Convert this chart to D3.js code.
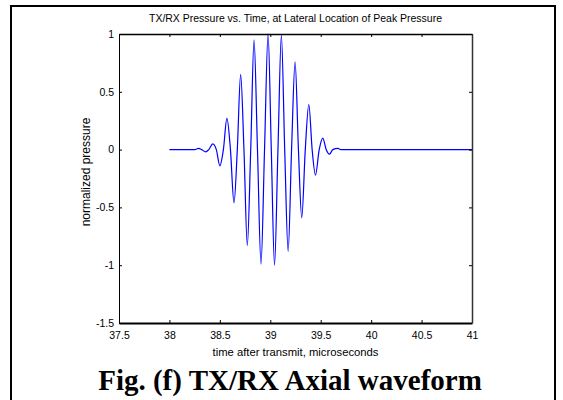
<!DOCTYPE html>
<html>
<head>
<meta charset="utf-8">
<script src="https://cdn.jsdelivr.net/npm/d3@7"></script>
<style>
  html, body { margin: 0; padding: 0; background: #fff; }
  svg { display: block; }
  text { font-family: "Liberation Sans", Arial, sans-serif; fill: #000; }
  .caption { font-family: "Liberation Serif", "Times New Roman", serif; font-weight: bold; }
</style>
</head>
<body>
<div id="chart"></div>
<script>
const SIZE = Object.freeze({
  WIDTH: 563,
  HEIGHT: 400,
  LEFT: 119,
  RIGHT: 472,
  TOP: 34,
  BOTTOM: 323,
})

// time after transmit (microseconds) and normalized pressure
const times = [
  38.0, 38.25, 38.29, 38.32, 38.36, 38.39, 38.43, 38.465, 38.50, 38.535,
  38.57, 38.605, 38.64, 38.673, 38.706, 38.739, 38.772, 38.806, 38.839, 38.873,
  38.908, 38.943, 38.978, 39.01, 39.042, 39.076, 39.11, 39.143, 39.177, 39.211,
  39.246, 39.279, 39.312, 39.347, 39.382, 39.415, 39.448, 39.485, 39.521, 39.554,
  39.587, 39.62, 39.67, 39.70, 41.0
]
const pressure = [
  0, 0, 0.01, 0, -0.02, 0, 0.05, 0, -0.14, 0,
  0.27, 0, -0.46, 0, 0.65, 0, -0.83, 0, 0.95, 0,
  -0.99, 0, 1.0, 0, -1.0, 0, 0.99, 0, -0.88, 0,
  0.76, 0, -0.59, 0, 0.39, 0, -0.22, 0, 0.10, 0,
  -0.04, 0, 0.01, 0, 0
]

const xTicks = [37.5, 38, 38.5, 39, 39.5, 40, 40.5, 41]
const xTickLabels = ['37.5', '38', '38.5', '39', '39.5', '40', '40.5', '41']
const yTicks = [-1.5, -1, -0.5, 0, 0.5, 1]
const yTickLabels = ['-1.5', '-1', '-0.5', '0', '0.5', '1']

const title = 'TX/RX Pressure vs. Time, at Lateral Location of Peak Pressure'
const xLabel = 'time after transmit, microseconds'
const yLabel = 'normalized pressure'
const caption = 'Fig. (f) TX/RX Axial waveform'

const buildChart = () => {
  const dataset = times.map((t, i) => [t, pressure[i]])

  const xScale = d3.scaleLinear()
    .domain([37.5, 41])
    .range([SIZE.LEFT, SIZE.RIGHT])
  const yScale = d3.scaleLinear()
    .domain([-1.5, 1])
    .range([SIZE.BOTTOM, SIZE.TOP])

  const svg = d3.select('#chart')
    .append('svg')
    .attr('width', SIZE.WIDTH)
    .attr('height', SIZE.HEIGHT)

  // page frame
  svg.append('path')
    .attr('d', `M11,${SIZE.HEIGHT} V6 H555 V${SIZE.HEIGHT}`)
    .attr('fill', 'none')
    .attr('stroke', '#000')
    .attr('stroke-width', 2)

  // waveform
  const line = d3.line()
    .x(d => xScale(d[0]))
    .y(d => yScale(d[1]))
    .curve(d3.curveMonotoneX)

  svg.append('path')
    .datum(dataset)
    .attr('d', line)
    .attr('fill', 'none')
    .attr('stroke', '#0000ff')
    .attr('stroke-width', 1.2)

  const xFormat = (d, i) => xTickLabels[i]
  const yFormat = (d, i) => yTickLabels[i]

  const bottomAxis = svg.append('g')
    .attr('transform', `translate(0, ${SIZE.BOTTOM})`)
    .call(d3.axisBottom(xScale).tickValues(xTicks).tickFormat(xFormat).tickSizeInner(-3).tickSizeOuter(0).tickPadding(9))
  const topAxis = svg.append('g')
    .attr('transform', `translate(0, ${SIZE.TOP})`)
    .call(d3.axisTop(xScale).tickValues(xTicks).tickFormat('').tickSizeInner(-3).tickSizeOuter(0))
  const leftAxis = svg.append('g')
    .attr('transform', `translate(${SIZE.LEFT}, 0)`)
    .call(d3.axisLeft(yScale).tickValues(yTicks).tickFormat(yFormat).tickSizeInner(-3).tickSizeOuter(0).tickPadding(5))
  const rightAxis = svg.append('g')
    .attr('transform', `translate(${SIZE.RIGHT}, 0)`)
    .call(d3.axisRight(yScale).tickValues(yTicks).tickFormat('').tickSizeInner(-3).tickSizeOuter(0))

  ;[bottomAxis, topAxis, leftAxis, rightAxis].forEach(g => {
    g.selectAll('text').style('font-size', '10.5px').style('font-family', '"Liberation Sans", Arial, sans-serif')
    g.selectAll('line').attr('stroke', '#000')
  })
  bottomAxis.select('.domain').attr('stroke-width', 2)
  topAxis.select('.domain').attr('stroke-width', 1.5)
  rightAxis.select('.domain').attr('stroke-width', 1.5).attr('stroke', '#333')

  svg.append('text')
    .attr('x', (SIZE.LEFT + SIZE.RIGHT) / 2)
    .attr('y', 22)
    .attr('text-anchor', 'middle')
    .attr('textLength', 293)
    .attr('lengthAdjust', 'spacingAndGlyphs')
    .style('font-size', '11px')
    .text(title)

  svg.append('text')
    .attr('x', (SIZE.LEFT + SIZE.RIGHT) / 2)
    .attr('y', 356)
    .attr('text-anchor', 'middle')
    .attr('textLength', 166)
    .attr('lengthAdjust', 'spacingAndGlyphs')
    .style('font-size', '11px')
    .text(xLabel)

  svg.append('text')
    .attr('transform', `translate(90, 172) rotate(-90)`)
    .attr('text-anchor', 'middle')
    .style('font-size', '12px')
    .text(yLabel)

  svg.append('text')
    .attr('class', 'caption')
    .attr('x', 290)
    .attr('y', 390)
    .attr('text-anchor', 'middle')
    .style('font-size', '29px')
    .text(caption)
}

document.addEventListener('DOMContentLoaded', () => {
  buildChart()
})
</script>
</body>
</html>
